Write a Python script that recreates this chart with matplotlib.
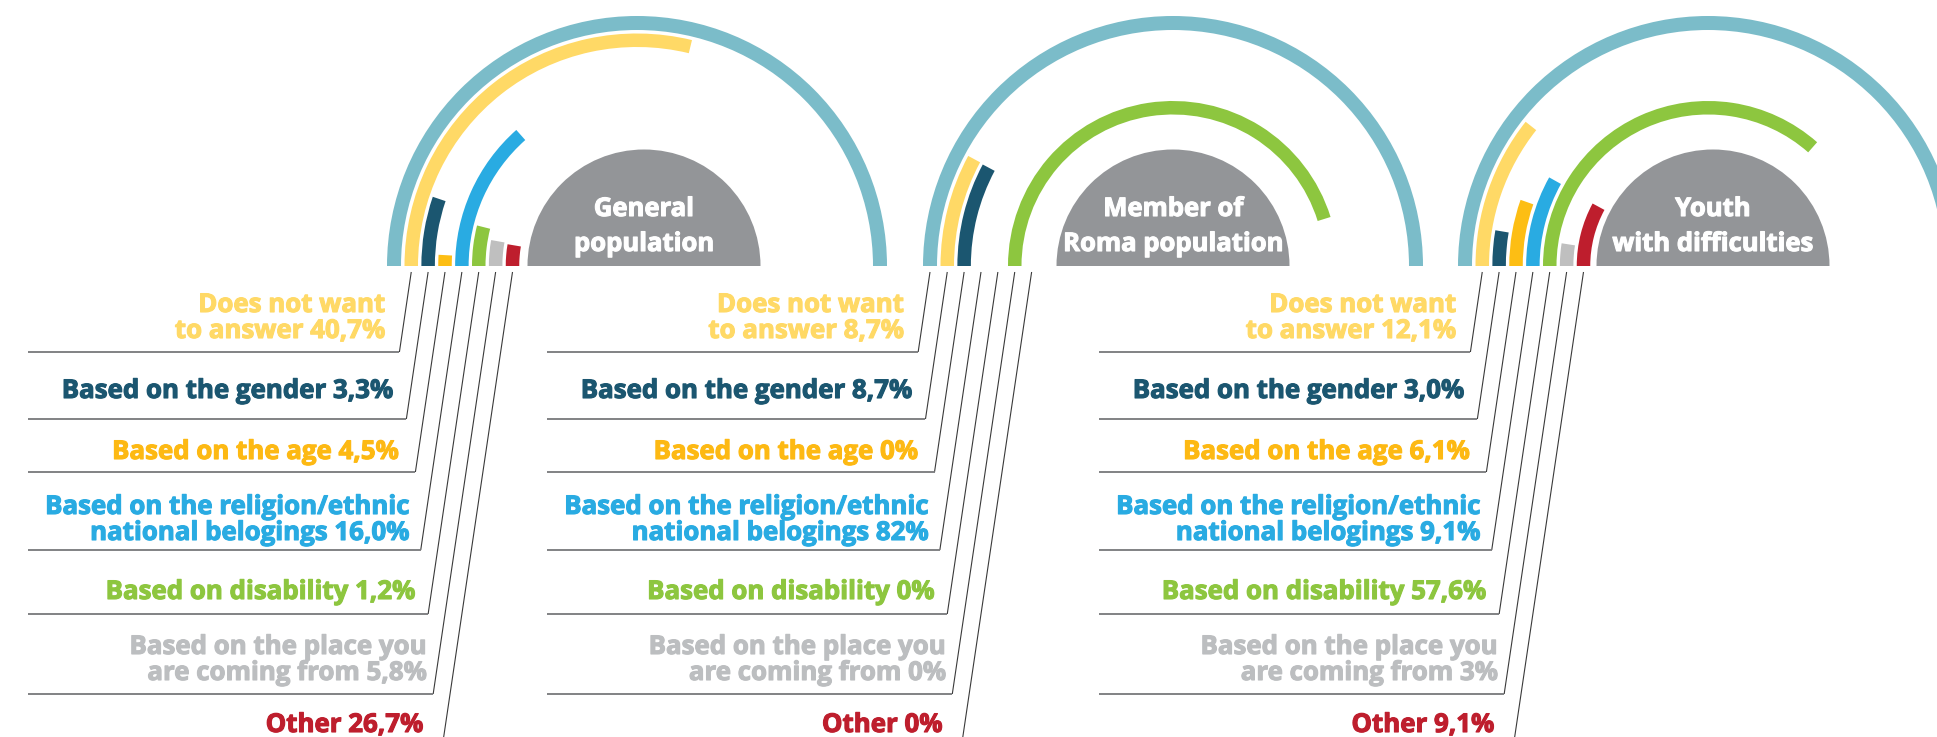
import matplotlib
matplotlib.use("Agg")
import matplotlib.pyplot as plt
from matplotlib.patches import Wedge
import matplotlib.patheffects as pe

# ---------------- data ----------------
categories = [
    "Does not want\nto answer",
    "Based on the gender",
    "Based on the age",
    "Based on the religion/ethnic\nnational belogings",
    "Based on disability",
    "Based on the place you\nare coming from",
    "Other",
]
panel_titles = ["General\npopulation", "Member of\nRoma population", "Youth\nwith difficulties"]

# values printed in the labels (%)
general_pct = [40.7, 3.3, 4.5, 16.0, 1.2, 5.8, 26.7]
roma_pct = [8.7, 8.7, 0, 82, 0, 0, 0]
youth_pct = [12.1, 3.0, 6.1, 9.1, 57.6, 3, 9.1]
# decimals shown in each printed value
general_dec = [1, 1, 1, 1, 1, 1, 1]
roma_dec = [1, 1, 0, 0, 0, 0, 0]
youth_dec = [1, 1, 1, 1, 1, 0, 1]

# arc lengths as drawn in the graphic (% of the half circle)
general_arc = [57.6, 10.4, 1.8, 26.9, 7.9, 5.6, 5.3]
roma_arc = [15.7, 15.6, 0, 0, 90.4, 0, 0]
youth_arc = [21.3, 5.3, 10.8, 16.2, 73.0, 4.9, 15.8]

ring_colors = ["#FFD966", "#1B5670", "#FDBE14", "#29ABE2", "#8DC63F", "#BFBFBF", "#BE1E2D"]
text_colors = ["#FFD966", "#1B5670", "#FDB913", "#29ABE2", "#8DC63F", "#BCBEC0", "#BE1E2D"]
teal = "#7BBCC9"
dome_color = "#939598"

# ---------------- layout ----------------
W, H = 1937, 737
fig = plt.figure(figsize=(W / 100, H / 100), dpi=100)
ax = fig.add_axes([0, 0, 1, 1])
ax.set_xlim(0, W)
ax.set_ylim(H, 0)
ax.axis("off")

FONT = ["Open Sans", "DejaVu Sans"]
renderer = fig.canvas.get_renderer()


def fit_size(s, target_px):
    t = ax.text(0, 0, s, fontsize=20, fontfamily=FONT, fontweight="bold")
    w = t.get_window_extent(renderer).width
    t.remove()
    return 20 * target_px / w


label_fs = fit_size("Based on the gender 3,3%", 332)
title_fs = fit_size("Roma population", 220)

centers = [637, 1173, 1708]
base_y = 266
R = 250
dome_dx = [7, 0, 5]
slot_shift = [0, -1, 0]
teal_w = 0.056
ring_w = 0.054
pitch = 0.0675
first_outer = 0.93
dome_r = 0.466
leader_top = 272
slope = 0.148
label_baselines = [[312, 338], [398], [459], [514, 540], [599], [654, 680], [732]]
underline_y = [352, 419, 472, 550, 614, 694, 770]
line_gaps = [16, 16, 18, 12, 14, 8, 21]

pct_sets = [general_pct, roma_pct, youth_pct]
dec_sets = [general_dec, roma_dec, youth_dec]
arc_sets = [general_arc, roma_arc, youth_arc]


def fmt(v, d):
    return (f"{v:.{d}f}").replace(".", ",") + "%"


def ring_mid(k):
    # k = 0 teal, 1..7 categories
    if k == 0:
        return R * (1 - teal_w / 2)
    return R * (first_outer - (k - 1) * pitch - ring_w / 2)


def bold_fx(c, w):
    return [pe.withStroke(linewidth=w, foreground=c)]


for p, cx in enumerate(centers):
    # outer teal half ring (100 %)
    ax.add_patch(Wedge((cx, base_y), R, 180, 360, width=R * teal_w, color=teal, lw=0))
    # category rings
    for k, (a, c) in enumerate(zip(arc_sets[p], ring_colors)):
        if a <= 0:
            continue
        r_out = R * (first_outer - k * pitch)
        ax.add_patch(Wedge((cx, base_y), r_out, 180, 180 + 180 * a / 100,
                           width=R * ring_w, color=c, lw=0))
    # grey dome with title
    dcx = cx + dome_dx[p]
    ax.add_patch(Wedge((dcx, base_y), R * dome_r, 180, 360, color=dome_color, lw=0))
    t1, t2 = panel_titles[p].split("\n")
    for s, yb in ((t1, 216), (t2, 251)):
        ax.text(dcx, yb, s, ha="center", va="baseline", color="white",
                fontsize=title_fs, fontfamily=FONT, fontweight="bold",
                path_effects=bold_fx("white", 0.8))

    # leaders, underlines and labels
    left_x = cx - 609 + slot_shift[p] * pitch * R
    for i in range(7):
        x0 = cx - ring_mid(i + 1 + slot_shift[p])

        def lx(y):
            return x0 - slope * (y - leader_top)

        yu = underline_y[i]
        ax.plot([x0, lx(yu)], [leader_top, yu], color="#3A3A3A", lw=0.8,
                solid_capstyle="butt")
        ax.plot([left_x, lx(yu)], [yu, yu], color="#77787B", lw=1.3,
                solid_capstyle="butt")
        lines = categories[i].split("\n")
        lines[-1] = lines[-1] + " " + fmt(pct_sets[p][i], dec_sets[p][i])
        xr = lx(label_baselines[i][-1]) - line_gaps[i]
        for s, yb in zip(lines, label_baselines[i]):
            ax.text(xr, yb, s, ha="right", va="baseline", color=text_colors[i],
                    fontsize=label_fs, fontfamily=FONT, fontweight="bold",
                    path_effects=bold_fx(text_colors[i], 0.8))

fig.savefig("out.png", dpi=100, facecolor="white")
